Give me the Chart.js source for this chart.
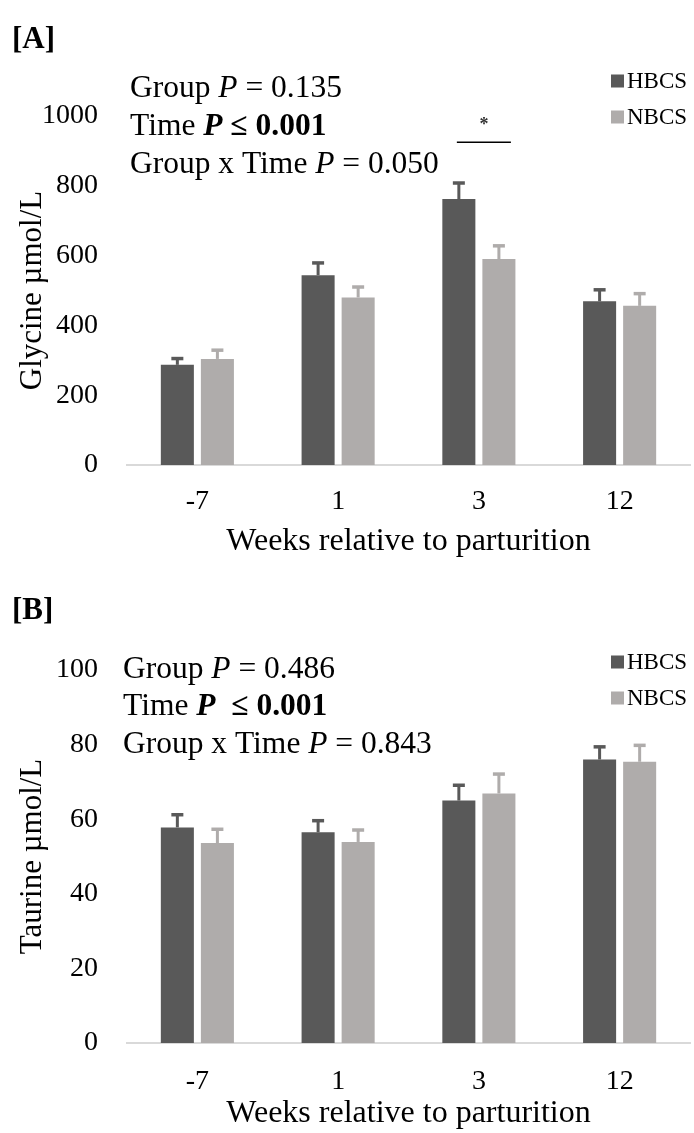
<!DOCTYPE html>
<html>
<head>
<meta charset="utf-8">
<script src="https://cdn.jsdelivr.net/npm/chart.js@4.4.0/dist/chart.umd.min.js"></script>
<style>
  body { margin: 0; background: #fff; }
  canvas { display: block; }
</style>
</head>
<body>
<canvas id="glycineChart" width="694" height="566"></canvas>
<canvas id="taurineChart" width="694" height="567"></canvas>
<script>
// Week labels and groups
const weeks = ['-7', '1', '3', '12'];
const groupNames = ['HBCS', 'NBCS'];
const groupColors = ['#595959', '#afacab'];

// Glycine (µmol/L), mean and SEM
const glycineHBCS = [287, 544, 762, 469];
const glycineHBCSErr = [18, 35, 46, 33];
const glycineNBCS = [304, 480, 590, 456];
const glycineNBCSErr = [25, 30, 38, 35];
const glycineTicks = [0, 200, 400, 600, 800, 1000];

// Taurine (µmol/L), mean and SEM
const taurineHBCS = [57.8, 56.5, 65.0, 76.0];
const taurineHBCSErr = [3.4, 3.1, 4.1, 3.4];
const taurineNBCS = [53.6, 53.9, 66.9, 75.4];
const taurineNBCSErr = [3.7, 3.2, 5.2, 4.4];
const taurineTicks = [0, 20, 40, 60, 80, 100];

const SERIF = "'Liberation Serif', 'Times New Roman', serif";

// SEM whiskers on top of each bar
const errorBars = {
    id: 'errorBars',
    afterDatasetsDraw(chart) {
        const ctx = chart.ctx;
        const yScale = chart.scales.y;
        chart.data.datasets.forEach((ds, i) => {
            chart.getDatasetMeta(i).data.forEach((bar, j) => {
                const top = yScale.getPixelForValue(ds.data[j] + ds.errors[j]);
                ctx.save();
                ctx.strokeStyle = ds.backgroundColor;
                ctx.lineWidth = 3;
                ctx.beginPath();
                ctx.moveTo(bar.x, bar.y);
                ctx.lineTo(bar.x, top);
                ctx.stroke();
                ctx.lineWidth = 3.5;
                ctx.beginPath();
                ctx.moveTo(bar.x - 6, top);
                ctx.lineTo(bar.x + 6, top);
                ctx.stroke();
                ctx.restore();
            });
        });
    }
};

// Panel letter, stats block, legend and significance mark
const panelText = {
    id: 'panelText',
    afterDraw(chart, args, opts) {
        const ctx = chart.ctx;
        ctx.save();
        ctx.fillStyle = '#000';
        ctx.textBaseline = 'middle';

        ctx.font = `bold 31px ${SERIF}`;
        ctx.fillText(opts.panel, 12, opts.panelY);

        opts.stats.forEach((line, k) => {
            let x = opts.statsX;
            const y = opts.statsY[k];
            line.forEach(([text, style]) => {
                ctx.font = `${style} 31.5px ${SERIF}`;
                ctx.fillText(text, x, y);
                x += ctx.measureText(text).width;
            });
        });

        chart.data.datasets.forEach((ds, i) => {
            const y = opts.legendY[i];
            ctx.fillStyle = ds.backgroundColor;
            ctx.fillRect(611, y - 6.5, 13, 13);
            ctx.fillStyle = '#000';
            ctx.font = `23px ${SERIF}`;
            ctx.fillText(ds.label, 627, y + 1);
        });

        if (opts.signif) {
            const s = opts.signif;
            const dark = chart.getDatasetMeta(0).data[s.index];
            const light = chart.getDatasetMeta(1).data[s.index];
            const x0 = dark.x - 2;
            const x1 = light.x + 12;
            const yLine = chart.scales.y.getPixelForValue(s.lineAt);
            ctx.strokeStyle = '#000';
            ctx.lineWidth = 1.5;
            ctx.beginPath();
            ctx.moveTo(x0, yLine);
            ctx.lineTo(x1, yLine);
            ctx.stroke();
            ctx.fillStyle = '#333';
            ctx.font = `bold 18px ${SERIF}`;
            ctx.textAlign = 'center';
            ctx.fillText('*', (x0 + x1) / 2, chart.scales.y.getPixelForValue(s.starAt) + 4);
        }
        ctx.restore();
    }
};

function makeChart(id, cfg) {
    return new Chart(document.getElementById(id), {
        type: 'bar',
        data: {
            labels: weeks,
            datasets: [
                { label: groupNames[0], data: cfg.hbcs, errors: cfg.hbcsErr, backgroundColor: groupColors[0] },
                { label: groupNames[1], data: cfg.nbcs, errors: cfg.nbcsErr, backgroundColor: groupColors[1] }
            ]
        },
        options: {
            responsive: false,
            animation: false,
            events: [],
            datasets: { bar: { categoryPercentage: 0.569, barPercentage: 0.825 } },
            layout: { padding: { top: cfg.top, left: 0, right: 4, bottom: 0 } },
            plugins: {
                legend: { display: false },
                tooltip: { enabled: false },
                panelText: cfg.text
            },
            scales: {
                x: {
                    grid: { display: false, drawTicks: false },
                    border: { display: true, color: '#d9d9d9', width: 2 },
                    ticks: { color: '#000', padding: cfg.tickPad, font: { family: SERIF, size: 28 } },
                    title: {
                        display: true,
                        text: 'Weeks relative to parturition',
                        color: '#000',
                        padding: { top: 0, bottom: cfg.titlePad },
                        font: { family: SERIF, size: 32 }
                    },
                    afterFit(scale) { scale.height = cfg.xHeight; }
                },
                y: {
                    min: 0,
                    max: cfg.ticks[cfg.ticks.length - 1],
                    afterBuildTicks(scale) { scale.ticks = cfg.ticks.map(v => ({ value: v })); },
                    grid: { display: false, drawTicks: false },
                    border: { display: false },
                    ticks: {
                        color: '#000',
                        padding: 29,
                        font: { family: SERIF, size: 28 },
                        callback: v => String(v)
                    },
                    title: {
                        display: true,
                        text: cfg.yTitle,
                        color: '#000',
                        padding: { top: 14, bottom: 0 },
                        font: { family: SERIF, size: 31 }
                    },
                    afterFit(scale) { scale.width = 127; }
                }
            }
        },
        plugins: [errorBars, panelText]
    });
}

makeChart('glycineChart', {
    hbcs: glycineHBCS, hbcsErr: glycineHBCSErr,
    nbcs: glycineNBCS, nbcsErr: glycineNBCSErr,
    ticks: glycineTicks,
    yTitle: 'Glycine µmol/L',
    top: 116, xHeight: 101, tickPad: 20, titlePad: 5,
    text: {
        panel: '[A]', panelY: 40,
        statsX: 130, statsY: [89, 127, 165],
        stats: [
            [['Group ', ''], ['P', 'italic'], [' = 0.135', '']],
            [['Time ', ''], ['P', 'bold italic'], [' ≤ 0.001', 'bold']],
            [['Group x Time ', ''], ['P', 'italic'], [' = 0.050', '']]
        ],
        legendY: [81, 117],
        signif: { index: 2, lineAt: 925, starAt: 985 }
    }
});

makeChart('taurineChart', {
    hbcs: taurineHBCS, hbcsErr: taurineHBCSErr,
    nbcs: taurineNBCS, nbcsErr: taurineNBCSErr,
    ticks: taurineTicks,
    yTitle: 'Taurine µmol/L',
    top: 104, xHeight: 90, tickPad: 22, titlePad: 0,
    text: {
        panel: '[B]', panelY: 45,
        statsX: 123, statsY: [104, 141, 179],
        stats: [
            [['Group ', ''], ['P', 'italic'], [' = 0.486', '']],
            [['Time ', ''], ['P', 'bold italic'], ['  ≤ 0.001', 'bold']],
            [['Group x Time ', ''], ['P', 'italic'], [' = 0.843', '']]
        ],
        legendY: [96, 132],
        signif: null
    }
});
</script>
</body>
</html>
